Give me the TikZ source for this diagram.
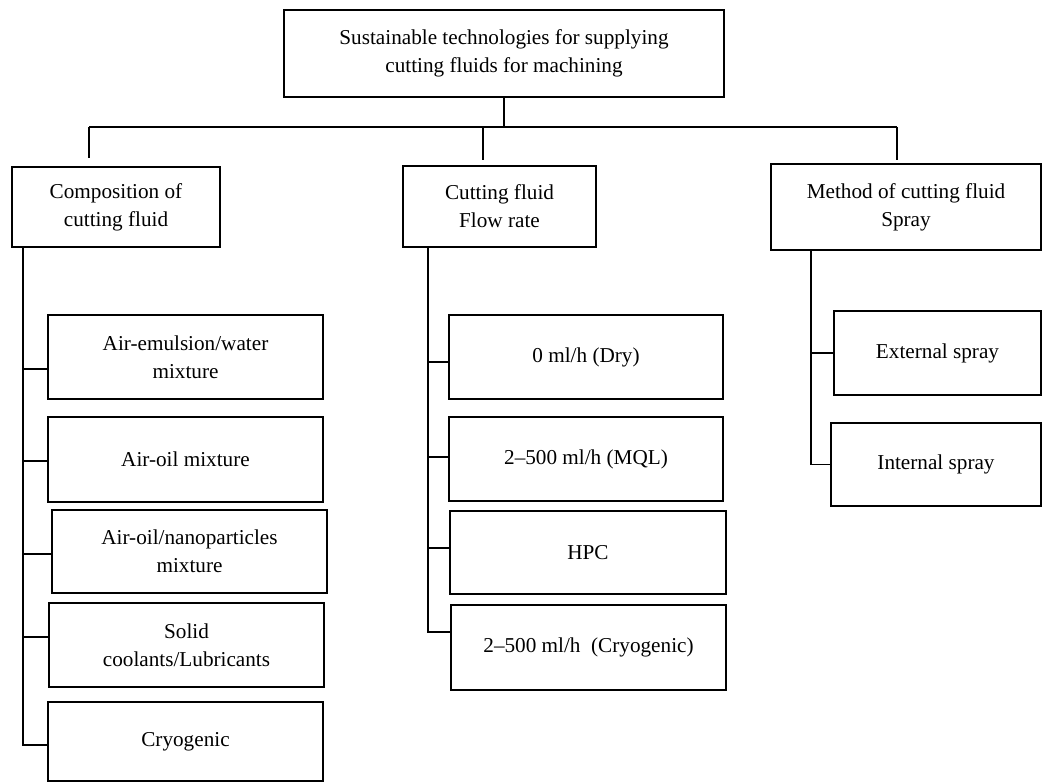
\documentclass[tikz,border=0pt]{standalone}
\usepackage{fontspec}
\setmainfont{Liberation Serif}
\usetikzlibrary{positioning, calc}

\begin{document}
\begin{tikzpicture}[
    x=1pt, y=-1pt,
    box/.style={
        draw, line width=1.5pt, rectangle,
        align=center, inner sep=0pt,
        font=\fontsize{21.2}{28}\selectfont
    },
    wire/.style={line width=1.6pt}
]

\useasboundingbox (0,0) rectangle (1043,783);

% Root
\node[box, minimum width=440pt, minimum height=87pt] (root) at (504,53.5)
    {Sustainable technologies for supplying\\cutting fluids for machining};

% Main branches
\node[box, minimum width=208pt, minimum height=80pt] (comp)  at (116,207)   {Composition of\\cutting fluid};
\node[box, minimum width=193pt, minimum height=81pt] (flow)  at (499.5,206.5) {Cutting fluid\\Flow rate};
\node[box, minimum width=270pt, minimum height=86pt] (spray) at (906,207)   {Method of cutting fluid\\Spray};

% Composition of cutting fluid
\node[box, minimum width=275pt, minimum height=84pt] (airwater) at (185.5,357)   {Air-emulsion/water\\mixture};
\node[box, minimum width=275pt, minimum height=85pt] (airoil)   at (185.5,459.5) {Air-oil mixture};
\node[box, minimum width=275pt, minimum height=83pt] (airnano)  at (189.5,551.5) {Air-oil/nanoparticles\\mixture};
\node[box, minimum width=275pt, minimum height=84pt] (solid)    at (186.5,645)   {Solid\\coolants/Lubricants};
\node[box, minimum width=275pt, minimum height=79pt] (cryo)     at (185.5,741.5) {Cryogenic};

% Flow rate
\node[box, minimum width=274pt, minimum height=84pt] (dry)      at (586,357)     {0 ml/h (Dry)};
\node[box, minimum width=274pt, minimum height=84pt] (mql)      at (586,459)     {2--500 ml/h (MQL)};
\node[box, minimum width=276pt, minimum height=83pt] (hpc)      at (588,552.5)   {HPC};
\node[box, minimum width=275pt, minimum height=85pt] (cryoflow) at (588.5,647.5) {2--500 ml/h\ \ (Cryogenic)};

% Spray
\node[box, minimum width=207pt, minimum height=84pt] (external) at (937.5,353)   {External spray};
\node[box, minimum width=210pt, minimum height=83pt] (internal) at (936,464.5)   {Internal spray};

% Bus below the root
\coordinate (busL) at (89,127);
\coordinate (busM) at (483,127);
\coordinate (busR) at (897,127);
\draw[wire] (root.south) -- (root.south |- busL);
\draw[wire] (busL) -- (busR);
\draw[wire] (busL) -- ++(0,31);
\draw[wire] (busM) -- ++(0,33);
\draw[wire] (busR) -- ++(0,33);

% Spines (stubs sit a little off the box centres, as drawn)
\coordinate (compSp)  at ([xshift=11.5pt]comp.south west);
\coordinate (flowSp)  at ([xshift=25.5pt]flow.south west);
\coordinate (spraySp) at ([xshift=40.5pt]spray.south west);

\coordinate (airwaterIn) at ([yshift=-12pt]airwater.west);
\coordinate (airoilIn)   at ([yshift=-1.5pt]airoil.west);
\coordinate (airnanoIn)  at ([yshift=-2.5pt]airnano.west);
\coordinate (solidIn)    at ([yshift=8pt]solid.west);
\coordinate (cryoIn)     at ([yshift=-3.5pt]cryo.west);
\coordinate (dryIn)      at ([yshift=-5pt]dry.west);
\coordinate (mqlIn)      at ([yshift=2pt]mql.west);
\coordinate (hpcIn)      at ([yshift=4.5pt]hpc.west);
\coordinate (cryoflowIn) at ([yshift=15.5pt]cryoflow.west);

\draw[wire] (compSp) |- (cryoIn);
\draw[wire] (compSp |- airwaterIn) -- (airwaterIn);
\draw[wire] (compSp |- airoilIn) -- (airoilIn);
\draw[wire] (compSp |- airnanoIn) -- (airnanoIn);
\draw[wire] (compSp |- solidIn) -- (solidIn);

\draw[wire] (flowSp) |- (cryoflowIn);
\draw[wire] (flowSp |- dryIn) -- (dryIn);
\draw[wire] (flowSp |- mqlIn) -- (mqlIn);
\draw[wire] (flowSp |- hpcIn) -- (hpcIn);

\draw[wire] (spraySp) |- (internal.west);
\draw[wire] (spraySp |- external.west) -- (external.west);

\end{tikzpicture}
\end{document}
